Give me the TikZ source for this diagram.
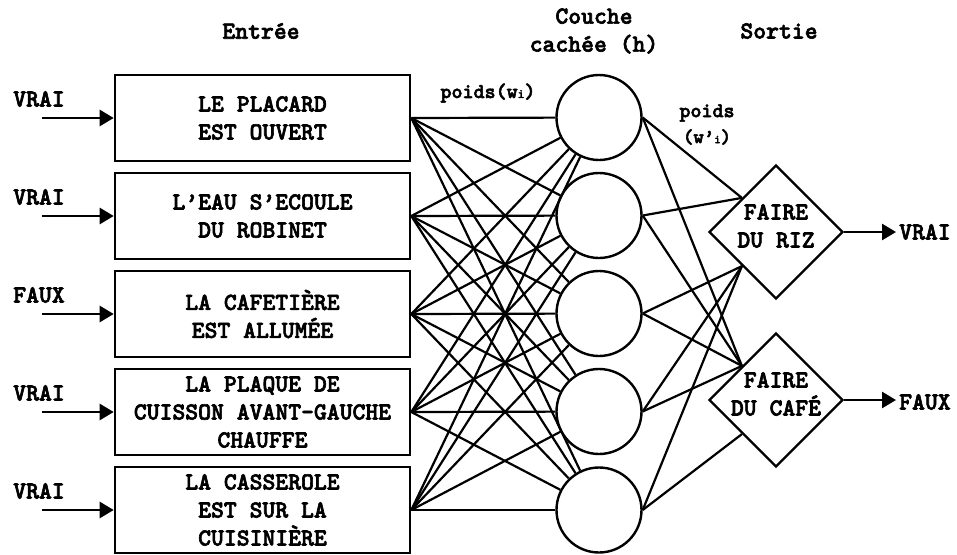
\documentclass[tikz,border=0pt]{standalone}
\usepackage{fontspec}
\setmainfont{lmmonolt10-regular}[Extension=.otf,BoldFont=lmmonolt10-bold,BoldFeatures={FakeBold=2.5}]
\usetikzlibrary{shapes.geometric,arrows.meta}
\begin{document}
\begin{tikzpicture}[x=1pt,y=-1pt,
  every node/.style={font=\bfseries\fontsize{24.5}{28}\selectfont},
  inbox/.style={draw,line width=2.6pt,minimum width=295pt,minimum height=86pt,align=center,inner sep=0pt},
  hid/.style={draw,circle,line width=2.4pt,minimum size=85pt,inner sep=0pt},
  outd/.style={draw,diamond,line width=2.4pt,minimum size=134pt,inner sep=0pt},
  dtext/.style={align=center,inner sep=0pt},
  conn/.style={line width=2.2pt},
  arr/.style={line width=2.6pt,-{Triangle[length=14pt,width=16pt]}},
  lbl/.style={inner sep=0pt},
  wlbl/.style={inner sep=0pt,font=\bfseries\fontsize{21}{24}\selectfont},
]
\useasboundingbox (0,0) rectangle (957,554);

% headings
\node[lbl] (hin) at (261,31) {Entrée};
\node[lbl,align=center] (hhid) at (594,31) {Couche\\cachée (h)};
\node[lbl] (hout) at (779,31) {Sortie};

% input boxes
\node[inbox] (b1) at (262.5,118) {LE PLACARD\\EST OUVERT};
\node[inbox] (b2) at (262.5,216) {L'EAU S'ECOULE\\DU ROBINET};
\node[inbox] (b3) at (262.5,314) {LA CAFETIÈRE\\EST ALLUMÉE};
\node[inbox] (b4) at (262.5,412) {LA PLAQUE DE\\CUISSON AVANT-GAUCHE\\CHAUFFE};
\node[inbox] (b5) at (262.5,510) {LA CASSEROLE\\EST SUR LA~\\CUISINIÈRE};

% input values and arrows
\foreach \i/\v/\y in {1/VRAI/118,2/VRAI/216,3/FAUX/314,4/VRAI/412,5/VRAI/510}{
  \node[lbl] (v\i) at (39,\y-19) {\v};
  \coordinate (s\i) at (42,\y);
  \draw[arr] (s\i) -- (b\i.west);
}

% hidden layer
\foreach \i/\y in {1/117.5,2/215.5,3/313.5,4/411.5,5/510}{
  \node[hid] (c\i) at (599,\y) {};
}

% output diamonds
\node[outd] (d1) at (776,232) {};
\node[outd] (d2) at (776,400) {};
\node[dtext] (t1) at (776,226) {FAIRE\\DU RIZ};
\node[dtext] (t2) at (776,394) {FAIRE\\DU CAFÉ};

% input -> hidden
\foreach \i in {1,...,5}{
  \foreach \j in {1,...,5}{
    \draw[conn] (b\i.east) -- (c\j);
  }
}

% hidden -> output
\draw[conn] (c1.east) -- (d1.north west);
\draw[conn] (c2.east) -- (d1.north west);
\draw[conn] (c3.east) -- (d1.south west);
\draw[conn] (c4.east) -- (d1.south west);
\draw[conn] (c5.east) -- (d1.south west);
\draw[conn] (c1.east) -- (d2.north west);
\draw[conn] (c2.east) -- (d2.north west);
\draw[conn] (c3.east) -- (d2.north west);
\draw[conn] (c4.east) -- (d2.north west);
\draw[conn] (c5.east) -- (d2.south west);

% outputs
\coordinate (e1) at (896,232);
\coordinate (e2) at (896,400);
\draw[arr] (d1.east) -- (e1);
\draw[arr] (d2.east) -- (e2);
\node[lbl,anchor=west] (o1) at (899,232) {VRAI};
\node[lbl,anchor=west] (o2) at (899,402) {FAUX};

% weight labels
\node[wlbl] (w1) at (488,93) {poids(w{\fontsize{13}{13}\selectfont i})};
\node[wlbl] (w2) at (707,113) {poids};
\node[wlbl,font=\bfseries\fontsize{20}{22}\selectfont] (w3) at (707,137) {(w'{\fontsize{12}{12}\selectfont i})};
\end{tikzpicture}
\end{document}
